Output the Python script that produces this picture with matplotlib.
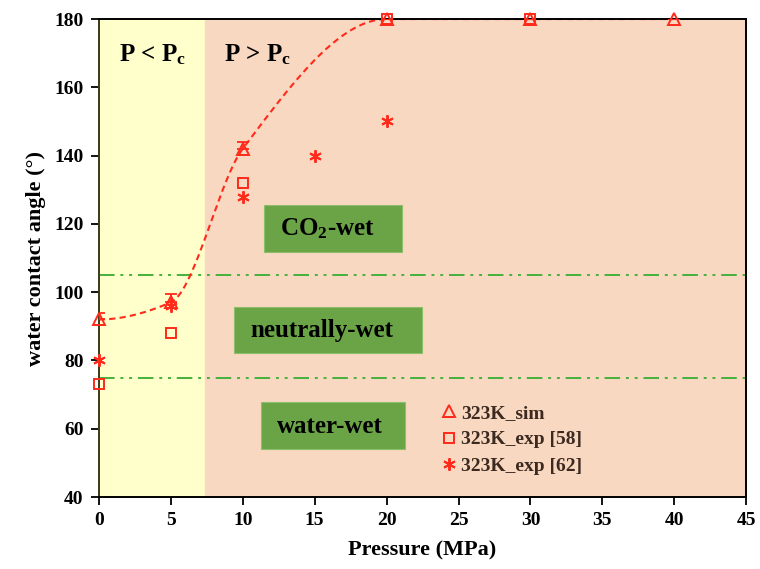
import numpy as np
import matplotlib.pyplot as plt
from matplotlib.patches import Rectangle

# simulation results (323 K)
p_sim = [0, 5, 10, 20, 30, 40]
ang_sim = [92, 97, 142, 180, 180, 180]
err_sim = [2, 2.5, 2, 0, 0, 0]

# experiments
p_exp58 = [0, 5, 10, 20, 30]
ang_exp58 = [73, 88, 132, 180, 180]
p_exp62 = [0, 5, 10, 15, 20]
ang_exp62 = [80, 96, 128, 140, 150]

p_crit = 7.38
wet_limits = [75, 105]

# wettability boxes: label, box (x0, x1, y0, y1), text start x, text y
regions = [
    ('CO$_\\mathbf{2}$-wet', (11.5, 21.05, 111.8, 125.5), 12.6, 118.6),
    ('neutrally-wet', (9.4, 22.45, 82.2, 95.6), 10.55, 88.9),
    ('water-wet', (11.25, 21.25, 54.0, 67.8), 12.4, 60.8),
]


def pchip(x, y, xn):
    # monotone cubic through the simulation points (trend line)
    x = np.asarray(x, float)
    y = np.asarray(y, float)
    h = np.diff(x)
    d = np.diff(y) / h
    m = np.zeros_like(y)
    for k in range(1, len(x) - 1):
        if d[k - 1] * d[k] > 0:
            w1 = 2 * h[k] + h[k - 1]
            w2 = h[k] + 2 * h[k - 1]
            m[k] = (w1 + w2) / (w1 / d[k - 1] + w2 / d[k])
    out = np.empty_like(xn)
    for i, xv in enumerate(xn):
        k = min(np.searchsorted(x, xv, side='right') - 1, len(x) - 2)
        t = (xv - x[k]) / h[k]
        h00 = 2 * t**3 - 3 * t**2 + 1
        h10 = t**3 - 2 * t**2 + t
        h01 = -2 * t**3 + 3 * t**2
        h11 = t**3 - t**2
        out[i] = h00 * y[k] + h10 * h[k] * m[k] + h01 * y[k + 1] + h11 * h[k] * m[k + 1]
    return out


plt.rcParams['font.family'] = 'Liberation Serif'
plt.rcParams['font.weight'] = 'bold'
plt.rcParams['mathtext.fontset'] = 'custom'
plt.rcParams['mathtext.rm'] = 'Liberation Serif:bold'
plt.rcParams['mathtext.bf'] = 'Liberation Serif:bold'
plt.rcParams['mathtext.it'] = 'Liberation Serif:bold'

fig = plt.figure(figsize=(7.6, 5.69), dpi=100)
ax = fig.add_axes([0.130, 0.1265, 0.852, 0.840])

ax.axvspan(0, p_crit, color='#ffffcc', zorder=0)
ax.axvspan(p_crit, 45, color='#f9d8c1', zorder=0)

for yl in wet_limits:
    ax.axhline(yl, color='#45b03a', lw=1.4, dashes=(8, 3, 1.5, 3, 1.5, 3), zorder=1)

red = '#ff2a1a'
xs = np.linspace(0, 40, 300)
ax.plot(xs, pchip(p_sim, ang_sim, xs), color=red, lw=1.5, ls=(0, (3, 2)), zorder=2)

ax.errorbar(p_sim, ang_sim, yerr=[[0] * len(err_sim), err_sim], fmt='none',
            ecolor=red, elinewidth=1.3, capsize=4, capthick=1.3, zorder=4)
ax.plot(p_sim, ang_sim, '^', ms=8, mfc='none', mec=red, mew=1.4,
        label='323K_sim', zorder=4, clip_on=False)
ax.plot(p_exp58, ang_exp58, 's', ms=7, mfc='none', mec=red, mew=1.4,
        label='323K_exp [58]', zorder=4, clip_on=False)
ax.plot(p_exp62, ang_exp62, ls='none', marker=(6, 2, 0), ms=9, mec=red, mew=1.4,
        label='323K_exp [62]', zorder=4, clip_on=False)

for label, (x0, x1, y0, y1), tx, ty in regions:
    ax.add_patch(Rectangle((x0, y0), x1 - x0, y1 - y0, fc='#6aa446',
                           ec='#8cbf6a', lw=0.8, zorder=3))
    ax.text(tx, ty, label, fontsize=18, ha='left', va='center', zorder=3)

ax.text(3.7, 169.5, 'P < P$_\\mathbf{c}$', fontsize=18, ha='center', va='center')
ax.text(11.0, 169.5, 'P > P$_\\mathbf{c}$', fontsize=18, ha='center', va='center')

ax.set_xlim(0, 45)
ax.set_ylim(40, 180)
ax.set_xticks(range(0, 46, 5))
ax.set_yticks(range(40, 181, 20))
ax.tick_params(labelsize=14, direction='out', length=6, width=1.3, pad=5,
               top=False, right=False)
ax.set_xlabel('Pressure (MPa)', fontsize=16, fontweight='bold', labelpad=8)
ax.set_ylabel('water contact angle (°)', fontsize=16, fontweight='bold', labelpad=6)
for s in ax.spines.values():
    s.set_linewidth(1.4)
ax.spines['left'].set_color('#3a3a1a')

leg = ax.legend(loc='upper left', bbox_to_anchor=(0.505, 0.222), frameon=False,
                fontsize=14, handletextpad=0.1, handlelength=1.0, borderpad=0.2,
                labelspacing=0.45)
for t in leg.get_texts():
    t.set_color('#3c2a20')

fig.savefig('out.png', dpi=100)
